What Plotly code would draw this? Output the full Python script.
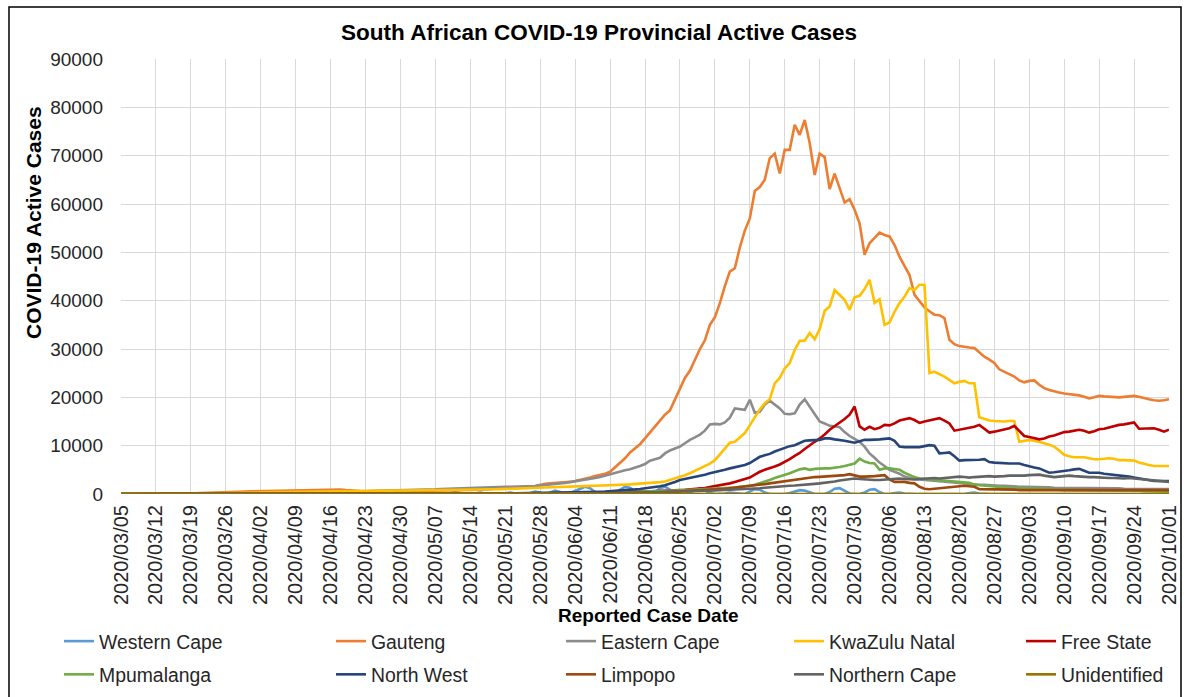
import pandas as pd
import plotly.graph_objects as go

# daily reporting dates on the category axis
dates = pd.date_range("2020-03-05", "2020-10-01", freq="D")
tick_dates = dates[::7]
tick_text = [d.strftime("%Y/%m/%d") for d in tick_dates]

# active cases per province, one row per week (7 days) + final day
western_cape = [
    0, 0, 0, 0, 0, 0, 0,
    0, 0, 0, 0, 0, 0, 0,
    0, 0, 0, 0, 0, 0, 0,
    0, 0, 0, 0, 0, 0, 0,
    0, 0, 0, 0, 0, 0, 0,
    0, 0, 0, 0, 0, 0, 0,
    0, 0, 0, 0, 0, 0, 0,
    0, 0, 0, 0, 0, 0, 0,
    0, 0, 0, 0, 0, 0, 0,
    0, 0, 0, 200, 400, 200, 0,
    0, 100, 300, 100, 0, 0, 0,
    100, 300, 100, 0, 0, 200, 500,
    300, 0, 300, 700, 400, 0, 200,
    600, 1000, 1500, 1200, 400, 0, 0,
    0, 300, 900, 1500, 1300, 600, 100,
    0, 0, 400, 1200, 1500, 900, 300,
    0, 0, 200, 800, 1200, 700, 200,
    0, 0, 100, 300, 200, 0, 0,
    500, 1000, 900, 300, 0, 0, 0,
    0, 200, 500, 800, 700, 300, 0,
    0, 0, 400, 1100, 1200, 700, 100,
    0, 0, 300, 900, 1000, 400, 0,
    0, 200, 300, 100, 0, 0, 0,
    0, 0, 0, 0, 0, 0, 0,
    0, 0, 200, 300, 100, 0, 0,
    0, 0, 0, 0, 0, 0, 0,
    0, 0, 0, 0, 0, 0, 0,
    0, 0, 0, 0, 0, 0, 0,
    0, 0, 0, 0, 0, 0, 0,
    0, 0, 0, 0, 0, 0, 0,
    0,
]
gauteng = [
    0, 0, 0, 0, 5, 10, 15,
    25, 35, 45, 60, 70, 90, 100,
    120, 150, 200, 250, 300, 350, 380,
    420, 450, 480, 500, 520, 540, 560,
    580, 600, 620, 640, 660, 680, 700,
    720, 760, 800, 840, 880, 900, 940,
    960, 950, 900, 800, 700, 650, 600,
    580, 560, 550, 540, 550, 560, 580,
    590, 600, 610, 620, 640, 660, 680,
    700, 720, 740, 760, 780, 800, 820,
    850, 880, 900, 950, 1000, 1050, 1100,
    1150, 1200, 1280, 1350, 1450, 1550, 1650,
    1900, 2100, 2200, 2250, 2300, 2400, 2500,
    2700, 2900, 3100, 3400, 3700, 3900, 4200,
    4600, 5500, 6400, 7400, 8600, 9400, 10300,
    11500, 12700, 13800, 15200, 16400, 17300, 19600,
    22000, 24000, 25500, 27800, 30000, 31800, 35000,
    36600, 39500, 43000, 46000, 46700, 51000, 54500,
    57000, 62700, 63500, 65000, 69500, 70400, 66300,
    71200, 71200, 76400, 74300, 77400, 72600, 66000,
    70400, 69700, 63100, 66300, 63500, 60300, 61000,
    58800, 56000, 49500, 51900, 53100, 54100, 53600,
    53300, 51500, 49100, 47200, 45300, 41200, 39800,
    38600, 37800, 37100, 37000, 36400, 31900, 31000,
    30600, 30400, 30300, 30200, 29200, 28400, 27800,
    27100, 25800, 25300, 24800, 24300, 23500, 23100,
    23400, 23500, 22600, 21900, 21500, 21200, 21000,
    20800, 20700, 20500, 20400, 20100, 19800, 20000,
    20300, 20200, 20100, 20100, 20000, 20100, 20200,
    20300, 20100, 19800, 19600, 19400, 19300, 19400,
    19600,
]
eastern_cape = [
    0, 0, 0, 0, 0, 0, 0,
    0, 0, 0, 0, 0, 1, 2,
    3, 5, 8, 10, 12, 15, 20,
    25, 30, 40, 50, 60, 70, 80,
    90, 100, 120, 140, 160, 180, 200,
    220, 250, 280, 300, 320, 350, 380,
    400, 420, 450, 480, 500, 520, 550,
    580, 600, 620, 650, 680, 700, 720,
    750, 780, 800, 820, 850, 880, 900,
    950, 1000, 1050, 1080, 1100, 1150, 1200,
    1250, 1300, 1300, 1350, 1400, 1400, 1450,
    1500, 1500, 1500, 1550, 1550, 1600, 1650,
    1750, 1900, 2000, 2100, 2200, 2300, 2450,
    2600, 2800, 3000, 3200, 3300, 3500, 3800,
    4100, 4300, 4600, 4900, 5100, 5400, 5800,
    6200, 6900, 7200, 7500, 8400, 9000, 9400,
    9800, 10500, 11200, 11700, 12300, 13100, 14400,
    14500, 14400, 14800, 15800, 17700, 17600, 17400,
    19500, 16800, 17000, 18500, 19300, 18500, 17700,
    16600, 16500, 16700, 18500, 19600, 18100, 16500,
    15000, 14600, 14100, 14000, 13800, 12800, 12000,
    11400, 10800, 9800, 8400, 7500, 6500, 5800,
    5000, 4600, 4200, 3600, 3300, 3100, 3000,
    2900, 2800, 2800, 2700, 2600, 2500, 2400,
    2300, 2200, 2100, 2000, 1900, 1900, 1800,
    1800, 1700, 1700, 1600, 1600, 1500, 1500,
    1500, 1400, 1400, 1400, 1400, 1300, 1300,
    1300, 1300, 1300, 1300, 1300, 1200, 1200,
    1200, 1200, 1200, 1200, 1200, 1100, 1100,
    1100, 1100, 1100, 1000, 1000, 1000, 1000,
    1000,
]
kwazulu_natal = [
    0, 0, 0, 0, 0, 0, 1,
    2, 5, 10, 15, 20, 30, 40,
    50, 60, 80, 100, 130, 160, 190,
    220, 250, 280, 300, 320, 330, 340,
    350, 360, 370, 380, 390, 400, 410,
    420, 430, 440, 450, 460, 470, 480,
    490, 500, 510, 520, 530, 540, 550,
    560, 570, 580, 590, 600, 610, 620,
    630, 640, 650, 660, 680, 700, 720,
    740, 760, 780, 800, 820, 840, 860,
    880, 900, 920, 940, 960, 980, 1000,
    1020, 1050, 1080, 1110, 1150, 1200, 1250,
    1300, 1350, 1400, 1450, 1500, 1520, 1550,
    1580, 1620, 1650, 1680, 1700, 1720, 1750,
    1800, 1850, 1900, 1950, 2000, 2050, 2100,
    2150, 2200, 2300, 2450, 2600, 2900, 3200,
    3600, 3900, 4300, 4800, 5300, 5800, 6300,
    7000, 8100, 9400, 10600, 10800, 11700, 12600,
    14200, 15800, 17500, 18800, 19600, 22900, 24000,
    26000, 27100, 29800, 31700, 31700, 33300, 32000,
    34100, 37900, 38800, 42200, 41200, 40200, 38100,
    40700, 41000, 42400, 44300, 39500, 40300, 35000,
    35500, 37700, 39500, 40800, 42600, 42200, 43300,
    43300, 25000, 25300, 24800, 24300, 23600, 22900,
    23200, 23400, 22900, 22900, 15900, 15500, 15200,
    15100, 15000, 15000, 15100, 15100, 10800, 11000,
    11200, 11000, 10800, 10500, 10200, 9800, 9000,
    8100, 7800, 7600, 7600, 7600, 7400, 7200,
    7200, 7300, 7400, 7300, 7000, 7000, 7000,
    6900, 6500, 6200, 6000, 5800, 5800, 5800,
    5800,
]
free_state = [
    0, 0, 0, 0, 0, 0, 0,
    0, 0, 0, 0, 0, 0, 0,
    5, 10, 20, 30, 40, 50, 60,
    70, 80, 85, 90, 90, 95, 100,
    100, 100, 100, 100, 100, 100, 100,
    100, 100, 90, 90, 80, 80, 70,
    70, 60, 60, 50, 50, 50, 50,
    40, 40, 40, 40, 40, 40, 40,
    40, 40, 40, 40, 50, 50, 50,
    50, 50, 50, 60, 60, 60, 60,
    60, 70, 70, 70, 80, 80, 80,
    90, 90, 100, 100, 110, 120, 130,
    140, 150, 160, 170, 180, 200, 220,
    240, 260, 280, 300, 320, 340, 360,
    380, 400, 420, 440, 460, 480, 500,
    520, 540, 560, 600, 640, 700, 760,
    820, 880, 950, 1000, 1100, 1250, 1450,
    1600, 1800, 2000, 2200, 2500, 2800, 3100,
    3400, 4000, 4600, 5000, 5300, 5700, 6100,
    6600, 7200, 7900, 8500, 9300, 10100, 10800,
    11500, 12300, 13300, 14000, 14800, 15500, 16400,
    18100, 14000, 13300, 13900, 13400, 13700, 14300,
    14200, 14600, 15200, 15500, 15700, 15300, 14700,
    15000, 15200, 15400, 15700, 15200, 14600, 13100,
    13300, 13400, 13700, 13900, 14300, 13500, 12700,
    12900, 13100, 13400, 13600, 14100, 13000, 12000,
    11800, 11500, 11300, 11500, 11900, 12100, 12400,
    12800, 12900, 13100, 13300, 13100, 12700, 13000,
    13400, 13500, 13800, 14100, 14300, 14400, 14600,
    14800, 13500, 13500, 13600, 13600, 13300, 12900,
    13300,
]
mpumalanga = [
    0, 0, 0, 0, 0, 0, 0,
    0, 0, 0, 0, 0, 0, 0,
    1, 2, 3, 5, 7, 9, 10,
    12, 14, 16, 18, 20, 22, 24,
    25, 26, 27, 28, 29, 30, 30,
    30, 30, 30, 30, 30, 30, 30,
    30, 30, 30, 30, 30, 30, 30,
    30, 30, 30, 30, 35, 35, 35,
    40, 40, 40, 45, 45, 50, 50,
    50, 55, 55, 60, 60, 65, 65,
    70, 70, 75, 75, 80, 80, 85,
    85, 90, 90, 95, 100, 100, 105,
    110, 115, 120, 125, 130, 135, 140,
    150, 170, 190, 210, 230, 250, 270,
    290, 310, 330, 360, 390, 420, 450,
    480, 510, 540, 580, 620, 660, 700,
    740, 780, 820, 870, 920, 980, 1050,
    1100, 1150, 1200, 1280, 1350, 1430, 1500,
    1700, 1900, 2200, 2500, 2900, 3300, 3600,
    4000, 4300, 4700, 5100, 5300, 5000, 5200,
    5300, 5300, 5300, 5400, 5600, 5800, 6000,
    6300, 7300, 6700, 6400, 6300, 5000, 5300,
    5300, 5100, 5000, 4400, 3900, 3500, 3200,
    3100, 3000, 2900, 2800, 2700, 2600, 2500,
    2500, 2400, 2300, 1900, 1800, 1700, 1600,
    1500, 1400, 1300, 1200, 1200, 1200, 1200,
    1200, 1200, 1100, 1100, 1000, 900, 800,
    800, 800, 800, 800, 800, 800, 800,
    800, 800, 800, 700, 700, 700, 700,
    700, 700, 600, 600, 600, 500, 500,
    500,
]
north_west = [
    0, 0, 0, 0, 0, 0, 0,
    0, 0, 0, 0, 0, 0, 0,
    5, 8, 10, 12, 15, 17, 20,
    22, 25, 27, 30, 32, 35, 38,
    40, 42, 44, 46, 48, 50, 50,
    50, 50, 50, 50, 50, 50, 50,
    50, 50, 45, 45, 40, 40, 40,
    40, 40, 40, 40, 40, 40, 40,
    40, 40, 45, 45, 50, 50, 55,
    60, 60, 65, 70, 70, 75, 80,
    80, 90, 90, 100, 110, 120, 130,
    140, 150, 160, 170, 180, 190, 200,
    210, 220, 230, 240, 250, 260, 280,
    300, 330, 360, 400, 440, 480, 520,
    570, 630, 700, 780, 860, 950, 1050,
    1150, 1300, 1450, 1600, 1800, 2100, 2500,
    2900, 3100, 3300, 3600, 3800, 4000, 4300,
    4500, 4700, 5000, 5300, 5500, 5700, 6000,
    6400, 7000, 7700, 8000, 8300, 8800, 9200,
    9600, 9900, 10100, 10500, 11000, 11100, 11200,
    11200, 11500, 11500, 11300, 11200, 11000, 10800,
    10600, 10900, 11200, 11200, 11200, 11300, 11400,
    11500, 11000, 9800, 9700, 9700, 9600, 9700,
    9900, 10100, 10000, 8400, 8500, 8600, 7800,
    6900, 7000, 7000, 7000, 7100, 7200, 6600,
    6500, 6400, 6300, 6300, 6300, 6300, 6000,
    5700, 5500, 5300, 4900, 4400, 4500, 4600,
    4700, 4900, 5100, 5200, 4800, 4400, 4400,
    4400, 4200, 4100, 3900, 3800, 3700, 3600,
    3400, 3200, 3000, 2800, 2700, 2700, 2700,
    2700,
]
limpopo = [
    0, 0, 0, 0, 0, 0, 0,
    0, 0, 0, 0, 0, 0, 0,
    0, 0, 1, 2, 3, 4, 5,
    6, 7, 8, 9, 10, 10, 11,
    12, 12, 13, 14, 15, 15, 16,
    17, 18, 19, 20, 20, 20, 20,
    20, 20, 20, 20, 20, 20, 20,
    20, 20, 20, 20, 20, 20, 20,
    20, 20, 25, 25, 25, 30, 30,
    30, 30, 35, 35, 35, 40, 40,
    40, 45, 45, 50, 50, 55, 55,
    60, 60, 65, 70, 70, 75, 80,
    80, 85, 85, 90, 90, 95, 95,
    100, 110, 120, 130, 140, 150, 160,
    170, 180, 200, 220, 240, 260, 280,
    300, 320, 350, 380, 420, 460, 500,
    550, 600, 650, 700, 760, 820, 880,
    950, 1000, 1100, 1200, 1300, 1400, 1500,
    1600, 1750, 1900, 2050, 2200, 2350, 2500,
    2650, 2800, 2950, 3100, 3300, 3400, 3500,
    3550, 3600, 3650, 3700, 3800, 3900, 4100,
    3900, 3600, 3600, 3600, 3700, 3800, 3900,
    3000, 2500, 2500, 2500, 2300, 2200, 1500,
    1100, 1000, 1100, 1200, 1200, 1300, 1400,
    1600, 1700, 1600, 1500, 1000, 1000, 1000,
    1000, 1000, 900, 900, 900, 800, 800,
    800, 800, 800, 800, 800, 800, 800,
    800, 800, 800, 800, 800, 800, 800,
    800, 800, 800, 800, 800, 800, 800,
    800, 800, 800, 800, 800, 800, 800,
    800,
]
northern_cape = [
    0, 0, 0, 0, 0, 0, 0,
    0, 0, 0, 0, 0, 0, 0,
    0, 0, 0, 0, 1, 1, 2,
    2, 3, 3, 4, 5, 5, 6,
    6, 7, 7, 8, 8, 9, 10,
    10, 10, 10, 10, 10, 10, 10,
    10, 10, 10, 10, 10, 10, 10,
    10, 10, 12, 12, 14, 14, 15,
    15, 16, 16, 17, 18, 18, 20,
    20, 22, 22, 24, 25, 26, 28,
    30, 30, 32, 34, 35, 36, 38,
    40, 40, 42, 44, 45, 46, 48,
    50, 50, 52, 54, 55, 56, 58,
    60, 70, 80, 90, 100, 110, 120,
    130, 150, 170, 190, 210, 230, 250,
    270, 290, 310, 330, 360, 390, 420,
    450, 480, 520, 560, 600, 640, 680,
    720, 760, 800, 850, 900, 950, 1000,
    1050, 1100, 1200, 1300, 1400, 1500, 1600,
    1650, 1700, 1750, 1800, 1900, 2000, 2100,
    2200, 2300, 2400, 2600, 2800, 2900, 3000,
    3200, 3100, 3000, 3000, 2900, 2900, 3000,
    3100, 3200, 3200, 3100, 3000, 3000, 3100,
    3200, 3300, 3300, 3200, 3300, 3400, 3500,
    3600, 3500, 3400, 3500, 3600, 3700, 3700,
    3600, 3600, 3700, 3800, 3800, 3700, 3800,
    3900, 3900, 4000, 3800, 3600, 3500, 3600,
    3700, 3800, 3700, 3600, 3500, 3500, 3500,
    3400, 3400, 3300, 3300, 3200, 3200, 3300,
    3200, 3100, 3000, 2900, 2800, 2700, 2600,
    2500,
]
unidentified = [
    0, 0, 0, 0, 0, 0, 0,
    0, 0, 0, 0, 0, 0, 0,
    0, 0, 0, 0, 0, 0, 0,
    0, 0, 0, 0, 0, 0, 0,
    0, 0, 0, 0, 0, 0, 0,
    0, 0, 0, 0, 0, 0, 0,
    0, 0, 0, 0, 0, 0, 0,
    0, 0, 0, 0, 0, 0, 0,
    0, 0, 0, 0, 0, 0, 0,
    0, 0, 0, 0, 0, 0, 0,
    0, 0, 0, 0, 0, 0, 0,
    0, 0, 0, 0, 0, 0, 0,
    0, 0, 0, 0, 0, 0, 0,
    0, 0, 0, 0, 0, 0, 0,
    0, 0, 0, 0, 0, 0, 0,
    0, 0, 0, 0, 0, 0, 0,
    0, 0, 0, 0, 0, 0, 0,
    0, 0, 0, 0, 0, 0, 0,
    0, 0, 0, 0, 0, 0, 0,
    0, 0, 0, 0, 0, 0, 0,
    0, 0, 0, 0, 0, 0, 0,
    0, 0, 0, 0, 0, 0, 0,
    0, 0, 0, 0, 0, 0, 0,
    0, 0, 0, 0, 0, 0, 0,
    0, 0, 0, 0, 0, 0, 0,
    0, 0, 0, 0, 0, 0, 0,
    0, 0, 0, 0, 0, 0, 0,
    0, 0, 0, 0, 0, 0, 0,
    0, 0, 0, 0, 0, 0, 0,
    0, 0, 0, 0, 0, 0, 0,
    0,
]

# (name, values, colour, legend column)
series = [
    ("Western Cape", western_cape, "#5B9BD5", "legend"),
    ("Gauteng", gauteng, "#ED7D31", "legend2"),
    ("Eastern Cape", eastern_cape, "#8C8C8C", "legend3"),
    ("KwaZulu Natal", kwazulu_natal, "#FFC000", "legend4"),
    ("Free State", free_state, "#C00000", "legend5"),
    ("Mpumalanga", mpumalanga, "#70AD47", "legend"),
    ("North West", north_west, "#264478", "legend2"),
    ("Limpopo", limpopo, "#9E480E", "legend3"),
    ("Northern Cape", northern_cape, "#636363", "legend4"),
    ("Unidentified", unidentified, "#997300", "legend5"),
]

FONT = "Arial, Liberation Sans, sans-serif"
TXT = "#262626"
GRID = "#d9d9d9"
W, H = 1188, 697
PL, PR, PT, PB = 121, 1169, 59, 494   # plot area in pixels


def px_x(px):
    return (px - PL) / (PR - PL)


def px_y(py):
    return (PB - py) / (PB - PT)


fig = go.Figure()
for name, vals, color, leg in series:
    assert len(vals) == len(dates), name
    fig.add_trace(go.Scatter(
        x=dates, y=vals, name=name, mode="lines", legend=leg,
        legendgroup=name, line=dict(color=color, width=2.6),
    ))

# legend columns: text starts at these x pixels, 40px symbol in front
legend_cols = [100, 372, 602, 830, 1062]
legends = {}
for i, tx in enumerate(legend_cols):
    key = "legend" if i == 0 else f"legend{i + 1}"
    legends[key] = dict(
        orientation="v", xref="container", yref="container",
        x=(tx - 41) / W, xanchor="left",
        y=1 - 658 / H, yanchor="middle",
        font=dict(family=FONT, size=19.4, color=TXT),
        bgcolor="rgba(0,0,0,0)", itemclick=False, tracegroupgap=5,
    )

fig.update_layout(
    width=W, height=H,
    margin=dict(l=PL, r=W - PR, t=PT, b=H - PB, autoexpand=False),
    paper_bgcolor="white", plot_bgcolor="white",
    font=dict(family=FONT, color=TXT),
    title=dict(
        text="<b>South African COVID-19 Provincial Active Cases</b>",
        x=599 / W, xanchor="center", y=1 - 32 / H, yanchor="middle",
        font=dict(size=22.5, color="black"),
    ),
    xaxis=dict(
        type="date", range=[dates[0], dates[-1]],
        tickvals=tick_dates, ticktext=tick_text, tickangle=-90,
        tickfont=dict(size=20, color=TXT), ticklabelstandoff=6,
        showgrid=True, gridcolor=GRID, gridwidth=1.3,
        showline=False, zeroline=False, ticks="", automargin=False,
    ),
    yaxis=dict(
        range=[0, 90000], dtick=10000, tickformat="d",
        tickfont=dict(size=19, color=TXT), ticklabelstandoff=17,
        showgrid=True, gridcolor=GRID, gridwidth=1.3,
        zeroline=False, showline=False, ticks="", automargin=False,
    ),
    annotations=[
        dict(text="<b>COVID-19 Active Cases</b>", textangle=-90,
             xref="paper", yref="paper", x=px_x(33), y=px_y(223),
             xanchor="center", yanchor="middle",
             showarrow=False, font=dict(size=21, color="black")),
        dict(text="<b>Reported Case Date</b>",
             xref="paper", yref="paper", x=px_x(648), y=px_y(615),
             xanchor="center", yanchor="middle",
             showarrow=False, font=dict(size=19, color="black")),
    ],
    shapes=[
        dict(type="rect", xref="paper", yref="paper",
             x0=px_x(9), x1=px_x(1181), y0=px_y(705), y1=px_y(7),
             line=dict(color="black", width=1.5)),
    ],
    **legends,
)

fig.write_html(
    "out.html",
    config={"displayModeBar": False},
    post_script="document.body.style.margin='0';",
)
